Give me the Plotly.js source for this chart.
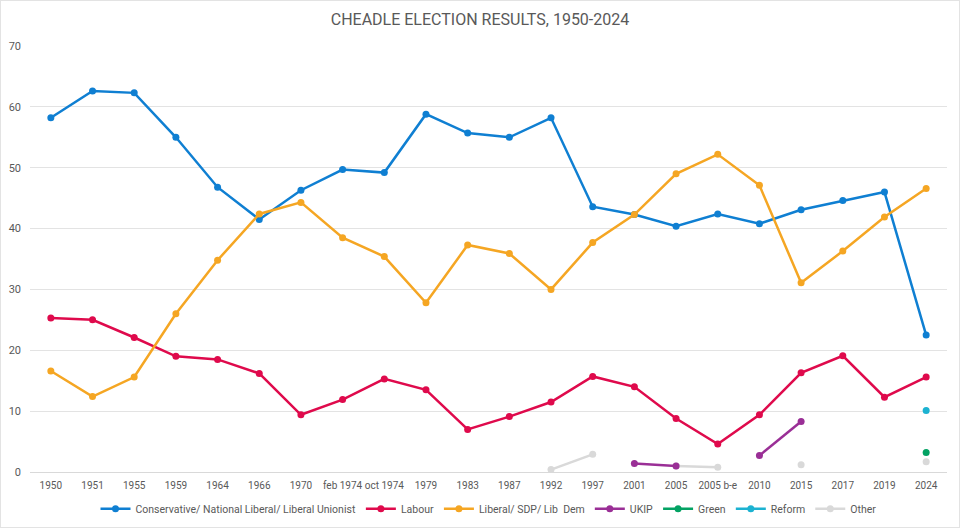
<!DOCTYPE html>
<html>
<head>
<meta charset="utf-8">
<script src="https://cdn.plot.ly/plotly-3.0.1.min.js"></script>
<style>
  html, body { margin: 0; padding: 0; background: #fff; }
  #chart { width: 958px; height: 526px; border: 1px solid #e3e3e3; }
</style>
</head>
<body>
<div id="chart"></div>
<script>
// election labels on the x axis
var elections = ['1950', '1951', '1955', '1959', '1964', '1966', '1970', 'feb 1974', 'oct 1974',
    '1979', '1983', '1987', '1992', '1997', '2001', '2005', '2005 b-e', '2010', '2015', '2017', '2019', '2024'];

// vote share, %
var conservative = [58.2, 62.6, 62.3, 55.0, 46.8, 41.5, 46.3, 49.7, 49.2, 58.8, 55.7, 55.0,
    58.2, 43.6, 42.3, 40.4, 42.4, 40.8, 43.1, 44.6, 46.0, 22.5];
var labour = [25.3, 25.0, 22.1, 19.0, 18.5, 16.2, 9.4, 11.9, 15.3, 13.5, 7.0, 9.1,
    11.5, 15.7, 14.0, 8.8, 4.6, 9.4, 16.3, 19.1, 12.3, 15.6];
var libdem = [16.6, 12.4, 15.6, 26.0, 34.8, 42.4, 44.3, 38.5, 35.4, 27.8, 37.3, 35.9,
    30.0, 37.7, 42.3, 49.0, 52.2, 47.1, 31.1, 36.3, 41.9, 46.6];
var ukip = [null, null, null, null, null, null, null, null, null, null, null, null,
    null, null, 1.4, 1.0, null, 2.7, 8.3, null, null, null];
var green = [null, null, null, null, null, null, null, null, null, null, null, null,
    null, null, null, null, null, null, null, null, null, 3.2];
var reform = [null, null, null, null, null, null, null, null, null, null, null, null,
    null, null, null, null, null, null, null, null, null, 10.1];
var other = [null, null, null, null, null, null, null, null, null, null, null, null,
    0.4, 2.9, null, 1.0, 0.8, null, 1.2, null, null, 1.7];

var yTicks = [0, 10, 20, 30, 40, 50, 60, 70];

function series(name, y, color) {
    return {
        x: elections,
        y: y,
        name: name,
        type: 'scatter',
        mode: 'lines+markers',
        connectgaps: false,
        line: { color: color, width: 2.5 },
        marker: { color: color, size: 7 },
        cliponaxis: false
    };
}

// other goes first so the party lines sit on top of it
var traces = [
    series('Other', other, '#d9d9d9'),
    series('Conservative/ National Liberal/ Liberal Unionist', conservative, '#0f7fd2'),
    series('Labour', labour, '#df0a4c'),
    series('Liberal/ SDP/ Lib  Dem', libdem, '#f5a623'),
    series('UKIP', ukip, '#9a2f96'),
    series('Green', green, '#03a263'),
    series('Reform', reform, '#1cb2d1')
];

var layout = {
    width: 958,
    height: 526,
    margin: { l: 29, r: 12, t: 45, b: 55, autoexpand: false },
    paper_bgcolor: '#fff',
    plot_bgcolor: '#fff',
    font: { family: 'Roboto, "Open Sans", sans-serif', size: 11, color: '#595959' },
    title: {
        text: 'CHEADLE ELECTION RESULTS, 1950-2024',
        font: { family: 'Roboto, "Open Sans", sans-serif', size: 16, color: '#595959' },
        x: 0.5,
        xanchor: 'center',
        y: 0.965,
        yanchor: 'middle'
    },
    xaxis: {
        type: 'category',
        range: [-0.5, elections.length - 0.5],
        tickmode: 'array',
        tickvals: elections,
        ticktext: elections,
        tickangle: 0,
        automargin: false,
        showgrid: false,
        showline: true,
        linecolor: '#d9d9d9',
        linewidth: 1,
        ticks: '',
        ticklabelstandoff: 4,
        tickfont: { size: 10, color: '#595959' },
        zeroline: false,
        fixedrange: true
    },
    yaxis: {
        range: [0, 70],
        tickmode: 'array',
        tickvals: yTicks,
        automargin: false,
        showgrid: true,
        gridcolor: '#e3e3e3',
        gridwidth: 1,
        zeroline: false,
        showline: false,
        ticks: '',
        ticklabelstandoff: 8,
        tickfont: { size: 11, color: '#595959' },
        fixedrange: true
    },
    legend: {
        orientation: 'h',
        x: 0.5,
        xanchor: 'center',
        y: -0.052,
        yanchor: 'top',
        traceorder: 'normal',
        font: { size: 10.5, color: '#595959' },
        itemwidth: 30
    },
    showlegend: true
};

// the legend runs in a different order from the drawing order
var legendRank = [7, 1, 2, 3, 4, 5, 6];
traces.forEach(function (t, i) { t.legendrank = legendRank[i]; });

Plotly.newPlot('chart', traces, layout, { displayModeBar: false, staticPlot: true });
</script>
</body>
</html>
